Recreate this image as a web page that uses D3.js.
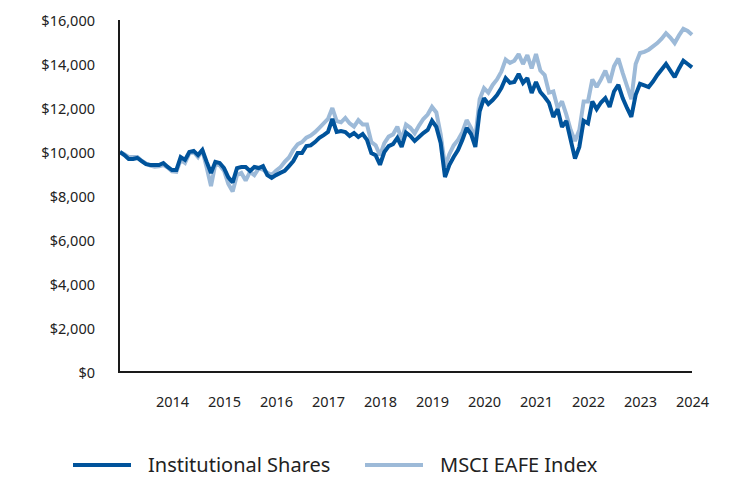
<!DOCTYPE html>
<html>
<head>
<meta charset="utf-8">
<script src="https://cdn.jsdelivr.net/npm/d3@7"></script>
<style>
  html, body { margin: 0; padding: 0; background: #fff; }
  svg { display: block; }
  text { font-family: "Noto Sans", "Open Sans", sans-serif; fill: #222; }
</style>
</head>
<body>
<svg id="chart" width="732" height="480"></svg>
<script>
// ---- data (monthly) ----
const startYear = 2013;
const yearTicks = [2014, 2015, 2016, 2017, 2018, 2019, 2020, 2021, 2022, 2023, 2024];
const yTicks = [0, 2000, 4000, 6000, 8000, 10000, 12000, 14000, 16000];
const seriesNames = ["Institutional Shares", "MSCI EAFE Index"];

const institutional = [
  10000, 9860, 9680, 9680, 9730, 9590, 9450, 9410, 9410, 9410, 9500, 9320,
  9180, 9180, 9770, 9640, 10000, 10050, 9860, 10090, 9550, 9050, 9550, 9500,
  9270, 8850, 8620, 9270, 9320, 9320, 9140, 9320, 9270, 9360, 8950, 8820,
  8950, 9050, 9140, 9360, 9590, 9950, 9950, 10270, 10300, 10450, 10640, 10770,
  10910, 11500, 10910, 10950, 10910, 10730, 10860, 10680, 10820, 10550, 9950, 9850,
  9420, 10000, 10270, 10360, 10640, 10230, 10880, 10730, 10500, 10680, 10860, 11000,
  11420, 11140, 10410, 8860, 9410, 9770, 10090, 10550, 11090, 10820, 10230, 11850,
  12450, 12180, 12360, 12590, 12910, 13360, 13140, 13180, 13550, 13140, 13360, 12680,
  13180, 12730, 12500, 12230, 11590, 11950, 11140, 11410, 10550, 9700, 10230, 11420,
  11300, 12300, 11950, 12250, 12450, 12050, 12750, 13050, 12450, 12000, 11600, 12600,
  13100, 13030, 12950, 13200, 13500, 13750, 14000, 13700, 13400, 13800, 14150, 14000,
  13850
];

const msciEafe = [
  10000, 9900, 9780, 9770, 9770, 9600, 9480, 9380, 9330, 9350, 9410, 9300,
  9120, 9100, 9640, 9500, 9950, 10000, 9770, 10090, 9300, 8450, 9450, 9400,
  9150, 8550, 8200, 8950, 9050, 8700, 9100, 8950, 9250, 9200, 9050, 8950,
  9150, 9300, 9550, 9750, 10100, 10350, 10450, 10650, 10750, 10900, 11100, 11300,
  11500, 12000, 11400, 11350, 11550, 11300, 11150, 11450, 11250, 11250, 10450, 10300,
  9850, 10400, 10700, 10800, 11150, 10550, 11250, 11100, 10850, 11200, 11500, 11700,
  12050, 11800, 10800, 9350, 9900, 10300, 10550, 10900, 11450, 11100, 10650, 12400,
  12900, 12700, 13050, 13300, 13650, 14200, 14050, 14150, 14450, 14000, 14400, 13800,
  14450, 13700, 13500, 12700, 12750, 12000, 12300, 11700, 11000, 10500, 11000, 12300,
  12300, 13300, 12950, 13300, 13700, 13150, 13900, 14250, 13600, 13000, 12400, 14000,
  14500, 14550, 14650, 14800, 14950, 15150, 15400, 15200, 14950, 15300, 15600, 15500,
  15330
];

// ---- layout ----
const svg = d3.select("#chart");

const x = d3.scaleLinear()
  .domain([startYear, 2024])
  .range([120, 692]);
const y = d3.scaleLinear()
  .domain([0, 16000])
  .range([372, 20]);

const dateOf = i => startYear + i / 12;

const colors = ["#00539b", "#9dbad8"];

// y-axis tick labels
const yAxis = d3.axisLeft(y)
  .tickValues(yTicks)
  .tickSize(0)
  .tickPadding(0)
  .tickFormat(d => "$" + d3.format(",")(d));
const gy = svg.append("g").attr("transform", "translate(95,0)").call(yAxis);
gy.select(".domain").remove();
gy.selectAll("text").style("font-size", "14.5px").attr("dy", "0.35em").style("fill", "#222");

// x-axis tick labels
const xAxis = d3.axisBottom(x)
  .tickValues(yearTicks)
  .tickSize(0)
  .tickPadding(0)
  .tickFormat(d3.format("d"));
const gx = svg.append("g").attr("transform", "translate(0,402)").call(xAxis);
gx.select(".domain").remove();
gx.selectAll("text").style("font-size", "14.5px").attr("dy", "0.35em").style("fill", "#222");

// lines
const line = d3.line()
  .x((d, i) => x(dateOf(i)))
  .y(d => y(d))
  .curve(d3.curveLinear);

[msciEafe, institutional].forEach((s, k) => {
  const ci = k === 0 ? 1 : 0;
  svg.append("path")
    .datum(s)
    .attr("fill", "none")
    .attr("stroke", colors[ci])
    .attr("stroke-width", 4)
    .attr("stroke-linejoin", "miter")
    .attr("stroke-miterlimit", 2)
    .attr("d", line);
});

// axis lines
svg.append("line")
  .attr("x1", 119).attr("x2", 119)
  .attr("y1", y(16000)).attr("y2", y(0) + 1)
  .attr("stroke", "#1a1a1a").attr("stroke-width", 2);
svg.append("line")
  .attr("x1", 118).attr("x2", x(2024))
  .attr("y1", y(0)).attr("y2", y(0))
  .attr("stroke", "#1a1a1a").attr("stroke-width", 2);

// legend
const legendItems = [
  { name: seriesNames[0], color: colors[0], x0: 73 },
  { name: seriesNames[1], color: colors[1], x0: 365 }
];
const lg = svg.append("g");
legendItems.forEach(it => {
  lg.append("line")
    .attr("x1", it.x0).attr("x2", it.x0 + 58)
    .attr("y1", 465).attr("y2", 465)
    .attr("stroke", it.color).attr("stroke-width", 4);
  lg.append("text")
    .attr("x", it.x0 + 75).attr("y", 465)
    .attr("dy", "0.35em")
    .style("font-size", "20px")
    .text(it.name);
});
</script>
</body>
</html>
